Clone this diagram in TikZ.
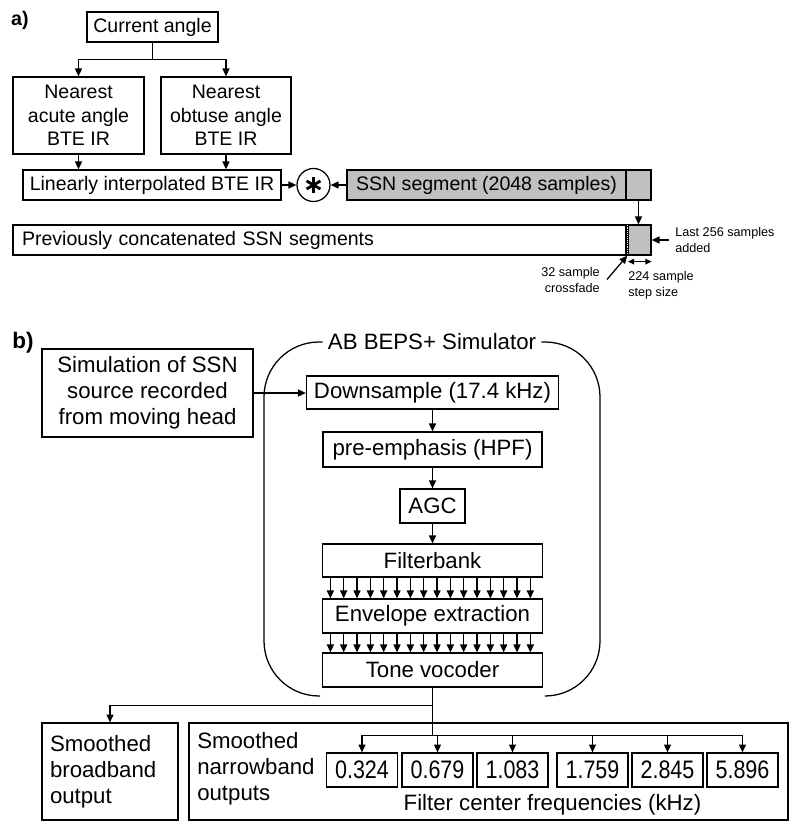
\documentclass[tikz,border=0pt]{standalone}
\usepackage{fontspec}
\setmainfont{Liberation Sans}
\newfontfamily\narrowfont[FakeStretch=0.85]{Liberation Sans}
\usepackage{xcolor}
\usepackage{tikz}
\usetikzlibrary{positioning,calc,arrows.meta}

\definecolor{ssnfill}{RGB}{192,192,192}
\newcommand{\pxu}{0.025cm}

\begin{document}
\begin{tikzpicture}[x=\pxu, y=-\pxu,
    box/.style={draw, line width=0.9pt, inner sep=0pt, align=center},
    ln/.style={line width=0.9pt},
    arr/.style={line width=0.9pt, -{Triangle[length=5.6pt,width=5pt]}},
    fa/.style={font=\fontsize{13.9}{16.7}\selectfont},
    fb/.style={font=\fontsize{15.8}{18.5}\selectfont},
    fs/.style={font=\fontsize{9}{11.4}\selectfont},
    fnum/.style={font=\narrowfont\fontsize{18}{20}\selectfont}]
    \useasboundingbox (0,0) rectangle (800,833);

    % a) SSN segments convolved with interpolated BTE IR
    \node[font=\bfseries\fontsize{14}{16}\selectfont] (lbla) at (20,20) {a)};
    \node[box, fa, minimum width=131*\pxu, minimum height=30*\pxu] (cur) at (152.5,27) {Current angle};
    \node[box, fa, minimum width=131*\pxu, minimum height=77*\pxu] (acute) at (78.5,115.5) {Nearest\\acute angle\\BTE IR};
    \node[box, fa, minimum width=130*\pxu, minimum height=77*\pxu] (obtuse) at (226,115.5) {Nearest\\obtuse angle\\BTE IR};
    \node[box, fa, minimum width=258*\pxu, minimum height=30*\pxu] (interp) at (152,185) {Linearly interpolated BTE IR};
    \node[draw, ln, circle, minimum size=33*\pxu, inner sep=0pt] (conv) at (313.5,185) {};
    \node[box, fa, fill=ssnfill, minimum width=279*\pxu, minimum height=30*\pxu] (ssn) at (486.5,185) {SSN segment (2048 samples)};
    \node[box, fill=ssnfill, minimum width=25*\pxu, minimum height=30*\pxu] (ssntail) at (638.5,185) {};
    \node[box, fa, align=left, text width=595*\pxu, inner xsep=9*\pxu, minimum height=30*\pxu] (prev) at (319.5,240) {Previously concatenated SSN segments};
    \node[box, fill=ssnfill, minimum width=22.5*\pxu, minimum height=30*\pxu] (last) at (639.75,240) {};

    % crossfade strip
    \draw[ln] (prev.north east) -- (last.north west);
    \draw[ln] (prev.south east) -- (last.south west);
    \draw[densely dotted, line width=0.5pt] ($(prev.north east)!0.5!(last.north west)$) -- ($(prev.south east)!0.5!(last.south west)$);

    % convolution sign
    \foreach \a in {90,30,150}
        \draw[line width=2pt] ([shift={(\a:8*\pxu)}]conv.center) -- ([shift={(\a+180:8*\pxu)}]conv.center);

    \draw[arr] (cur.south) -- ++(0,17) -| (acute.north);
    \draw[arr] (cur.south) -- ++(0,17) -| (obtuse.north);
    \draw[arr] (acute.south) -- (acute.south |- interp.north);
    \draw[arr] (obtuse.south) -- (obtuse.south |- interp.north);
    \draw[arr] (interp.east) -- (conv.west);
    \draw[arr] (ssn.west) -- (conv.east);
    \draw[arr] (ssntail.south) -- (ssntail.south |- last.north);

    % annotations
    \node[fs, align=left, anchor=west, inner sep=0pt, inner xsep=6*\pxu] (addlbl) at (669,240) {Last 256 samples\\added};
    \draw[arr] (addlbl.west) -- (last.east);
    \draw[line width=0.9pt, {Triangle[length=4.5pt,width=4pt]}-{Triangle[length=4.5pt,width=4pt]}] ([yshift=-6*\pxu]last.south west) -- ([yshift=-6*\pxu]last.south east);
    \node[fs, align=left, anchor=west, inner sep=0pt] (steplbl) at (628,285) {224 sample\\step size};
    \node[fs, align=right, anchor=east, inner sep=0pt, inner xsep=7*\pxu] (xfadelbl) at (607,279.5) {32 sample\\crossfade};
    \draw[arr] (xfadelbl.east) -- ($(prev.south east)!0.5!(last.south west)$);

    % b) AB BEPS+ simulator
    \node[font=\bfseries\fontsize{16}{18}\selectfont] (lblb) at (23,343) {b)};
    \node[fb, inner sep=0pt, inner xsep=5*\pxu] (beps) at (432,342) {AB BEPS+ Simulator};
    \draw[ln, rounded corners=1.375cm] (beps.west) -| (264,696) -- (320,696);
    \draw[ln, rounded corners=1.375cm] (beps.east) -| (600,696) -- (545,696);

    \node[box, fb, minimum width=211*\pxu, minimum height=88*\pxu] (sim) at (147.5,393) {Simulation of SSN\\source recorded\\from moving head};
    \node[box, fb, minimum width=252*\pxu, minimum height=33*\pxu] (down) at (432.5,392.5) {Downsample (17.4 kHz)};
    \node[box, fb, minimum width=219*\pxu, minimum height=35*\pxu] (pre) at (432.5,449.5) {pre-emphasis (HPF)};
    \node[box, fb, minimum width=65*\pxu, minimum height=34*\pxu] (agc) at (432.5,506) {AGC};
    \node[box, fb, minimum width=220*\pxu, minimum height=33*\pxu] (fbank) at (432.5,560.5) {Filterbank};
    \node[box, fb, minimum width=220*\pxu, minimum height=34*\pxu] (env) at (432.5,616) {Envelope extraction};
    \node[box, fb, minimum width=220*\pxu, minimum height=34*\pxu] (tone) at (432.5,670) {Tone vocoder};

    \draw[arr] (sim.east) -- (sim.east -| down.west);
    \draw[arr] (down.south) -- (pre.north);
    \draw[arr] (pre.south) -- (agc.north);
    \draw[arr] (agc.south) -- (fbank.north);
    \foreach \k [evaluate=\k as \dx using 8.5+13.33*\k] in {0,...,15} {
        \draw[arr] ([xshift=\dx*\pxu]fbank.south west) -- ([xshift=\dx*\pxu]env.north west);
        \draw[arr] ([xshift=\dx*\pxu]env.south west) -- ([xshift=\dx*\pxu]tone.north west);
    }

    % outputs
    \node[box, fb, align=left, text width=120*\pxu, inner xsep=8*\pxu, minimum height=97*\pxu] (broad) at (110,771.5) {Smoothed\\broadband\\output};
    \node[draw, ln, minimum width=599*\pxu, minimum height=97*\pxu, inner sep=0pt] (nbox) at (488.5,771.5) {};
    \node[fb, align=left, anchor=west, inner sep=0pt] (nlbl) at (197,769) {Smoothed\\narrowband\\outputs};
    \foreach \v/\x [count=\i] in {0.324/362, 0.679/437.5, 1.083/512.5, 1.759/592.5, 2.845/667.5, 5.896/742.5}
        \node[box, fnum, minimum width=71*\pxu, minimum height=34*\pxu] (f\i) at (\x,770) {\v};
    \node[fb] (fcap) at (552.5,805) {Filter center frequencies (kHz)};

    \coordinate (fork) at ([yshift=-48*\pxu]tone.south);
    \draw[arr] (tone.south) -- ++(0,18) -| (broad.north);
    \draw[ln] (tone.south) -- (fork);
    \foreach \i in {1,...,6}
        \draw[arr] (fork) -| (f\i.north);
\end{tikzpicture}
\end{document}
